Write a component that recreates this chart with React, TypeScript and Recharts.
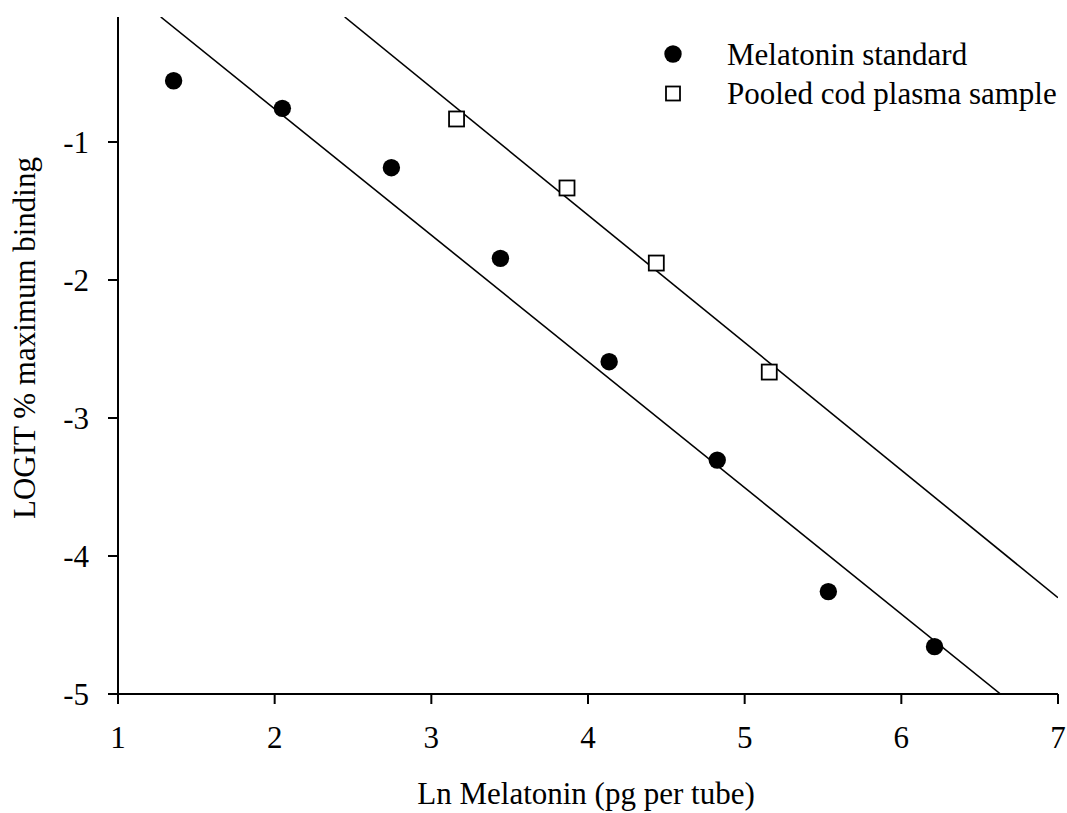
import { ScatterChart, Scatter, XAxis, YAxis, Legend, Label } from 'recharts';

// Melatonin standard curve (filled circles)
const standardX = [1.355, 2.049, 2.745, 3.441, 4.135, 4.825, 5.534, 6.212];
const standardY = [-0.556, -0.756, -1.186, -1.843, -2.592, -3.305, -4.258, -4.657];

// Pooled cod plasma sample dilutions (open squares)
const sampleX = [3.161, 3.866, 4.436, 5.157];
const sampleY = [-0.833, -1.333, -1.877, -2.667];

// regression lines, end points
const standardFitX = [1.273, 6.633];
const standardFitY = [-0.094, -5];
const sampleFitX = [2.447, 7];
const sampleFitY = [-0.094, -4.302];

const xTicks = [1, 2, 3, 4, 5, 6, 7];
const yTicks = [-5, -4, -3, -2, -1];

const legendItems = [
  { label: 'Melatonin standard', kind: 'circle' },
  { label: 'Pooled cod plasma sample', kind: 'square' },
];

const zip = (xs: number[], ys: number[]) => xs.map((x, i) => ({ x, y: ys[i] }));

const standard = zip(standardX, standardY);
const sample = zip(sampleX, sampleY);
const standardFit = zip(standardFitX, standardFitY);
const sampleFit = zip(sampleFitX, sampleFitY);

const FONT = '"Liberation Serif", "Times New Roman", serif';
const tickStyle = { fill: '#000', fontSize: 31, fontFamily: FONT };

const Dot = (props: any) => <circle cx={props.cx} cy={props.cy} r={8.7} fill="#000" />;
const Square = (props: any) => (
  <rect x={props.cx - 7.5} y={props.cy - 7.5} width={15} height={15} fill="#fff" stroke="#000" strokeWidth={1.8} />
);
const NoShape = () => <g />;

function LegendBox() {
  return (
    <svg width={1067} height={130} style={{ display: 'block' }}>
      {legendItems.map((item, i) => {
        const cy = 54 + i * 39.5;
        return (
          <g key={item.label}>
            {item.kind === 'circle' ? (
              <circle cx={673} cy={cy} r={8.7} fill="#000" />
            ) : (
              <rect x={666} y={cy - 7} width={14} height={14} fill="#fff" stroke="#000" strokeWidth={1.8} />
            )}
            <text x={727} y={cy + 10.5} fontSize={31} fontFamily={FONT} fill="#000">
              {item.label}
            </text>
          </g>
        );
      })}
    </svg>
  );
}

export default function App() {
  return (
    <div style={{ position: 'absolute', left: 0, top: 0, background: '#fff' }}>
      <ScatterChart width={1067} height={813} margin={{ top: 17, right: 9, bottom: 0, left: 0 }}>
        <XAxis
          type="number"
          dataKey="x"
          domain={[1, 7]}
          ticks={xTicks}
          allowDataOverflow
          height={119}
          stroke="#000"
          axisLine={{ stroke: '#000', strokeWidth: 2 }}
          tickLine={{ stroke: '#000', strokeWidth: 2 }}
          tickSize={10}
          tickMargin={22}
          tick={tickStyle}
        >
          <Label
            content={() => (
              <text x={586} y={804} textAnchor="middle" fontSize={31} fontFamily={FONT} fill="#000">
                Ln Melatonin (pg per tube)
              </text>
            )}
          />
        </XAxis>
        <YAxis
          type="number"
          dataKey="y"
          domain={[-5, -0.094]}
          ticks={yTicks}
          allowDataOverflow
          width={118}
          stroke="#000"
          axisLine={{ stroke: '#000', strokeWidth: 2 }}
          tickLine={{ stroke: '#000', strokeWidth: 2 }}
          tickSize={10}
          tickMargin={19}
          tick={tickStyle}
        >
          <Label
            content={() => (
              <text
                x={35}
                y={338}
                transform="rotate(-90, 35, 338)"
                textAnchor="middle"
                fontSize={31}
                fontFamily={FONT}
                fill="#000"
              >
                LOGIT % maximum binding
              </text>
            )}
          />
        </YAxis>
        <Legend
          layout="vertical"
          align="center"
          verticalAlign="middle"
          wrapperStyle={{ top: 0, left: 0, width: 1067, height: 130, pointerEvents: 'none' }}
          content={() => <LegendBox />}
        />
        <Scatter data={standardFit} line={{ stroke: '#000', strokeWidth: 1.6 }} shape={NoShape} legendType="none" isAnimationActive={false} />
        <Scatter data={sampleFit} line={{ stroke: '#000', strokeWidth: 1.6 }} shape={NoShape} legendType="none" isAnimationActive={false} />
        <Scatter name="Melatonin standard" data={standard} shape={Dot} isAnimationActive={false} />
        <Scatter name="Pooled cod plasma sample" data={sample} shape={Square} isAnimationActive={false} />
      </ScatterChart>
    </div>
  );
}
